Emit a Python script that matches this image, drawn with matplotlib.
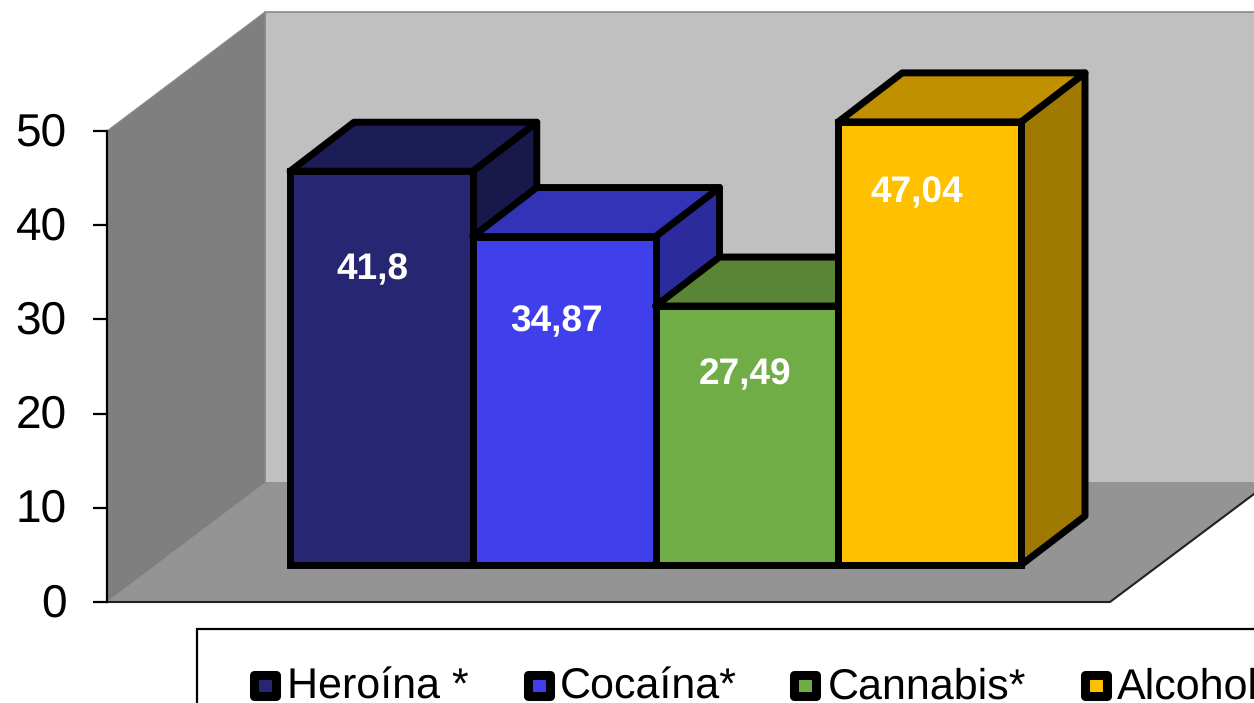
import matplotlib
matplotlib.use('Agg')
import matplotlib.pyplot as plt
from matplotlib.patches import Polygon, Rectangle
from matplotlib.transforms import ScaledTranslation

plt.rcParams['font.family'] = ['Liberation Sans', 'DejaVu Sans']
plt.rcParams['text.hinting'] = 'no_hinting'
plt.rcParams['text.hinting_factor'] = 1

categories = ['Heroína *', 'Cocaína*', 'Cannabis*', 'Alcohol']
values = [41.8, 34.87, 27.49, 47.04]
value_labels = ['41,8', '34,87', '27,49', '47,04']
yticks = [0, 10, 20, 30, 40, 50]

front_colors = ['#262673', '#3f3fec', '#70ad47', '#ffc000']
top_colors = ['#1c1c56', '#3333b8', '#5a8537', '#c09000']
side_colors = ['#18184a', '#2b2b9e', '#4a6e2e', '#a07a00']

W, H = 1254, 703
X0, Y0, Y50 = 107, 602, 131      # pixel position of the axis
BAR_W = 182.75
BAR_X0 = 290
PX_PER_UNIT = (Y0 - Y50) / 50

fig = plt.figure(figsize=(W / 100, H / 100), dpi=100)
ax = fig.add_axes([X0 / W, (H - Y0) / H, (W - X0) / W, (Y0 - Y50) / H])


def xd(px):
    return (px - BAR_X0) / BAR_W - 0.5


def yd(py):
    return (Y0 - py) / PX_PER_UNIT


def pts(*pairs):
    return [(xd(a), yd(b)) for a, b in pairs]


ax.set_xlim(xd(X0), xd(W))
ax.set_ylim(0, 50)
ax.set_yticks(yticks)
ax.set_xticks([])
ax.tick_params(axis='y', length=10, width=1.6, labelsize=33, pad=19, color='black')
for lab in ax.get_yticklabels():
    lab.set_transform(lab.get_transform() + ScaledTranslation(0, 2.5 / 100, fig.dpi_scale_trans))
for s in ['top', 'right', 'bottom']:
    ax.spines[s].set_visible(False)
ax.spines['left'].set_linewidth(1.6)
ax.spines['left'].set_zorder(6)
ax.patch.set_visible(False)

# walls and floor
ax.add_patch(Polygon(pts((265, 12), (1270, 12), (1270, 483), (265, 483)), closed=True,
                     fc='#c0c0c0', ec='#8a8a8a', lw=1.2, clip_on=False, zorder=1))
ax.add_patch(Polygon(pts((107, 131), (265, 12), (265, 483), (107, 602)), closed=True,
                     fc='#7f7f7f', ec='#8a8a8a', lw=0.8, clip_on=False, zorder=2))
ax.add_patch(Polygon(pts((107, 602), (265, 483), (1270, 483), (1110, 602)), closed=True,
                     fc='#949494', ec='none', clip_on=False, zorder=3))
ax.plot(*zip(*pts((107, 602), (1110, 602), (1270, 482))), color='#222222', lw=1.5,
        clip_on=False, zorder=4)

# bars
base = yd(565)
DX = 64 / BAR_W
DY = 49 / PX_PER_UNIT
LW = 5
edge = dict(ec='black', lw=LW, joinstyle='round', clip_on=False)
for i, v in enumerate(values):
    z = 10 + i
    left, right = i - 0.5, i + 0.5
    top = base + v
    ax.add_patch(Polygon([(right, base), (right + DX, base + DY), (right + DX, top + DY), (right, top)],
                         closed=True, fc=side_colors[i], zorder=z, **edge))
    ax.add_patch(Polygon([(left, top), (left + DX, top + DY), (right + DX, top + DY), (right, top)],
                         closed=True, fc=top_colors[i], zorder=z, **edge))
    ax.bar(i, v, width=1, bottom=base, color=front_colors[i], edgecolor='black', linewidth=LW,
           zorder=z, clip_on=False)

# value labels
label_px = [(372, 270), (556, 322), (745, 375), (917, 193)]
for (px, py), txt in zip(label_px, value_labels):
    ax.text(xd(px), yd(py), txt, color='white', fontsize=26.3, fontweight='bold',
            ha='center', va='center', zorder=20)

# legend, runs off the right and bottom of the picture
ax.add_patch(Rectangle((xd(197), yd(720)), xd(1270) - xd(197), yd(629) - yd(720), fc='white',
                       ec='black', lw=1.6, clip_on=False, zorder=7))
marker_px = [253.5, 527.5, 794, 1084.5]
text_px = [287, 560, 828, 1117]
for i, name in enumerate(categories):
    m = marker_px[i]
    ax.add_patch(Rectangle((xd(m), yd(696)), xd(m + 22) - xd(m), yd(674.5) - yd(696), fc=front_colors[i],
                           ec='black', lw=6.5, joinstyle='round', clip_on=False, zorder=8))
    ax.text(xd(text_px[i]), yd(699), name, fontsize=31.1, ha='left', va='baseline', zorder=8,
            clip_on=False)

fig.savefig('out.png', dpi=100, facecolor='white')
